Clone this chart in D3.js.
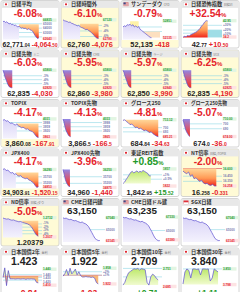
<!DOCTYPE html>
<html><head><meta charset="utf-8">
<script src="https://cdn.jsdelivr.net/npm/d3@7"></script>
<style>
body{margin:0;background:#fff}
svg{display:block}
.t{font-family:"Noto Sans CJK JP","Noto Sans",sans-serif}
.n{font-family:"Liberation Sans",Arial,sans-serif;font-weight:bold}
</style>
</head><body>
<svg id="c" width="240" height="292"></svg>
<script>
// ---------- DATA ----------
const titles = ["日経平均","日経時間外","サンデーダウ","日経恐怖指数",
  "日経先物","日経先物","日経先物","日経先物",
  "TOPIX","TOPIX先物","グロース250","グロース250先物",
  "JPX400","JPX400先物","東証REIT指数","NT倍率",
  "ND倍率","CME日経円建","CME日経ドル建","SGX日経",
  "日本国債2年","日本国債5年","日本国債10年","日本国債30年"];
const tags = ["","","CFD","日経VI","ミニ","CME","ラージ","SGX","","","","","","","","日経/TOPIX","日経/ダウ","","","","金利","金利","金利","金利"];
const flags = ["jp","jp","us","jp","jp","jp","jp","jp","jp","jp","jp","jp","jp","jp","jp","jp","jp","us","us","sg","jp","jp","jp","jp"];
const headMain = ["-6.08","-6.10","-0.79","+32.54","-6.03","-5.95","-5.97","-6.25","-4.17","-4.13","-4.81","-5.07","-4.17","-3.96","+0.85","-2.00","-5.05","63,150","63,235","63,150","1.423","1.922","2.709","3.840"];
const headTone = ["r","r","r","r","r","r","r","r","r","r","r","r","r","r","g","r","r","k","k","k","k","k","k","k"];
const priceMain = ["62,771","62,760","52,135","42","62,835","62,860","62,850","62,835","3,860","3,866","684","674","34,903","34,960","1,842","16","1.20379","","","","","","",""];
const priceDec = [".04","","",".77","","","","",".08",".5",".84",".0",".91","",".95",".258","","","","","","","",""];
const changeMain = ["-4,064","-4,076","-418","+10","-4,030","-3,980","-3,990","-4,190","-167","-166","-34","-36","-1,520","-1,440","+15","-0","","","","","-0.84%","-1.03%","+0.71%","+1.11%"];
const changeDec = [".50","","",".50","","","","",".91",".5",".63",".0",".15","",".52",".331","","","","","","","",""];
const changeTone = ["r","r","r","r","r","r","r","r","r","r","r","r","r","r","g","r","r","r","r","r","r","r","g","g"];

const sNikkei = [66500,66600,66300,66450,66200,66000,66100,65800,65900,65600,65700,65500,65300,65400,65200,65000,65100,64900,65000,64800,64700,64900,64600,64500,64300,63800,63300,62900,62643,62771];
const sNikkeiPTS = [67100,66900,66800,66700,66500,66600,66300,66200,66000,65900,65700,65800,65500,65300,65200,65000,64800,64900,64600,64400,64100,63800,63400,63000,62780,62760];
const sDow = [52600,52650,52620,52700,52680,52720,52650,52700,52600,52650,52580,52620,52500,52450,52400,52350,52300,52250,52200,52150,52135];
const sVI = [32.5,33,32.8,33.5,33.2,34,34.5,35,35.5,36,37,38,39.5,40.5,42,42.95,42.77];
const sFutMini = [65800,65300,64600,64200,63700,63300,63000,62900,62820,62835];
const sFutA = [65800,65200,64700,64100,63600,63200,63000,62880,62860];
const sFutB = [65800,65400,64800,64300,63800,63300,63000,62880,62850];
const sFutC = [65800,65100,64500,64000,63500,63100,62900,62825,62835];
const sTopix = [4020,4025,4010,4015,4000,3990,3995,3980,3975,3985,3965,3960,3950,3955,3945,3935,3940,3925,3920,3915,3900,3880,3863,3860];
const sTopixF = [4030,4000,3950,3920,3900,3880,3870,3866.5];
const sGrowth = [712,713,710,708,705,706,703,700,701,698,699,697,695,696,694,692,693,690,688,686,684.84];
const sGrowthF = [708,700,690,684,680,676,674];
const sJpx = [36300,36350,36200,36250,36100,36000,36050,35900,35950,35800,35750,35800,35650,35600,35550,35600,35450,35400,35300,35200,35000,34850,34903];
const sJpxF = [36250,35900,35500,35250,35100,34980,34960];
const sReit = [1827,1830,1835,1840,1845,1850,1852,1849,1851,1853,1850,1852,1851,1854,1852,1850,1848,1843,1842.95];
const sNT = [16.55,16.52,16.50,16.53,16.45,16.48,16.40,16.42,16.38,16.35,16.37,16.32,16.30,16.31,16.28,16.27,16.29,16.26,16.258];
const sND = [1.272,1.270,1.268,1.269,1.266,1.264,1.265,1.262,1.260,1.258,1.259,1.256,1.254,1.252,1.250,1.246,1.240,1.230,1.218,1.208,1.2038];
const sCme = [67000,66900,66950,66800,66700,66750,66600,66500,66550,66400,66300,66200,66300,66100,66000,65800,65500,65000,64500,64000,63500,63300,63150,63150];
const sCmeD = [67300,67200,67250,67100,67000,67050,66900,66800,66850,66700,66600,66500,66600,66400,66300,66100,65800,65300,64800,64200,63700,63400,63235,63235];
const sSgx = [67000,66900,66950,66800,66700,66750,66600,66500,66550,66400,66300,66200,66300,66100,66000,65800,65500,65000,64500,64000,63500,63300,63150,63150];
const sJgb2 = [1.430,1.465,1.400,1.455,1.425,1.425,1.425,1.424,1.425,1.425,1.424,1.425,1.425,1.423,1.425,1.424,1.425,1.424,1.424,1.412,1.410];
const sJgb5 = [1.940,1.945,1.955,1.942,1.958,1.945,1.950,1.956,1.943,1.950,1.941,1.938,1.938,1.939,1.938,1.938,1.937,1.938,1.935,1.925,1.922];
const sJgb10 = [2.690,2.700,2.720,2.735,2.740,2.745,2.750,2.748,2.751,2.745,2.750,2.748,2.746,2.700,2.690,2.720,2.730,2.725,2.715,2.709];
const sJgb30 = [3.800,3.840,3.850,3.845,3.820,3.850,3.850,3.848,3.850,3.830,3.850,3.850,3.849,3.850,3.810,3.820,3.850,3.845,3.840];
const seriesList = [sNikkei,sNikkeiPTS,sDow,sVI,sFutMini,sFutA,sFutB,sFutC,sTopix,sTopixF,sGrowth,sGrowthF,sJpx,sJpxF,sReit,sNT,sND,sCme,sCmeD,sSgx,sJgb2,sJgb5,sJgb10,sJgb30];
const xSlots = [30,26,26,24,36,36,36,36,24,34,21,32,23,32,24,20,21,25,25,25,21,21,20,19];
const domains = [[62400,67100],[62500,67300],[52050,52950],[31,44],[62600,66100],[62600,66100],[62600,66100],[62600,66100],[3850,4040],[3850,4040],[682,716],[670,712],[34800,36450],[34850,36400],[1818,1860],[16.22,16.62],[1.199,1.276],[62900,67400],[63000,67600],[62900,67400],[1.395,1.47],[1.915,1.962],[2.683,2.758],[3.790,3.858]];
const baseVals = [65900,66200,52600,32.3,65800,65800,65800,65800,3990,4030,713,710,36050,36250,1827.4,16.60,1.262,62900,63000,62900,1.435,1.942,2.690,3.798];
const topLabel = ["66835","67120","52851","42.95","65800","65800","65800","65800","4031","4033","713.12","710.00","36290","36250","1857","16.600","1.2732","67040","67330","67040","1.440","1.958","2.751","3.850"];
const topVal = [66835,67120,52851,42.95,65800,65800,65800,65800,4031,4033,713.12,710,36290,36250,1857,16.6,1.2732,67040,67330,67040,1.460,1.958,2.751,3.850];
const botLabel = ["62643","62780","52135","34.2","62820","62820","62840","62825","3863","3865","685.21","674.00","34853","34875","1822","16.258","1.2037","63145","63380","63145","1.410","1.922","2.685","3.798"];
const botVal = [62643,62780,52135,33.2,62820,62820,62840,62825,3863,3865,685.21,674,34853,34875,1822,16.258,1.2037,63145,63380,63145,1.410,1.922,2.685,3.798];
const gridVals = [[66000,65000,64000,63000],[65800,64500,63200],[52600,52400],[40,37,35],[64860,64190,63520],[64860,64190,63520],[64860,64190,63520],[64860,64190,63520],[3998,3959,3920],[3998,3959,3920],[700,693],[700,690],[35700,35200],[35700,35200],[1845,1836],[16.45,16.35],[1.250,1.238,1.225,1.213],[65000],[65000],[65000],[1.440,1.430,1.420],[1.950,1.942],[2.751,2.720],[3.850]];
const gridText = [["65000","64000","63000",""],["-2%","-4%","-6%"],["",""],["+30%","+20%","+10%"],["-3%","-4%","-5%"],["-3%","-4%","-5%"],["-3%","-4%","-5%"],["-3%","-4%","-5%"],["3998","3959","3920"],["3998","3959","3920"],["700","693"],["700","690"],["35700","35200"],["35700","35200"],["+1%","+0.5%"],["16.450","16.350"],["-1%","-2%","-3%","-4%"],["65000"],["65000"],["65000"],["1.440","1.430","1.420"],["+2%","+1%"],["",""],[""]];

// ---------- STYLE ----------
const style = [
 {bg:"w",fill:"split",split:13,grad:"gO"},{bg:"y",fill:"split",split:12,grad:"gO"},{bg:"f",fill:"lav",band:true},{bg:"w",fill:"up",grad:"gO"},
 {bg:"w",fill:"all",grad:"gP"},{bg:"y",fill:"all",grad:"gP"},{bg:"y",fill:"all",grad:"gP"},{bg:"y",fill:"all",grad:"gP"},
 {bg:"f",fill:"split",split:9,grad:"gO"},{bg:"w",fill:"all",grad:"gP"},{bg:"w",fill:"split",split:0,grad:"gO"},{bg:"w",fill:"all",grad:"gP"},
 {bg:"f",fill:"split",split:8,grad:"gO"},{bg:"w",fill:"all",grad:"gP"},{bg:"w",fill:"up",grad:"gG"},{bg:"y",fill:"split",split:0,grad:"gO"},
 {bg:"y",fill:"split",split:11,grad:"gO"},{bg:"w",fill:"lav"},{bg:"w",fill:"lav"},{bg:"w",fill:"lav"},
 {bg:"w",fill:"both"},{bg:"w",fill:"both"},{bg:"w",fill:"up",grad:"gG"},{bg:"w",fill:"up",grad:"gG"}
];
const RED="#e5232b", GREEN="#1f9a2a", YEL="#fffbd6";

const svg = d3.select("#c");
const defs = svg.append("defs");
function grad(id, stops){
  const g = defs.append("linearGradient").attr("id",id).attr("x1",0).attr("y1",0).attr("x2",0).attr("y2",1);
  stops.forEach(s=>g.append("stop").attr("offset",s[0]).attr("stop-color",s[1]));
}
grad("gO",[[0,"#ffd79a"],[0.55,"#ff9a55"],[1,"#f0261c"]]);
grad("gP",[[0,"#8f86e6"],[0.5,"#d35a7a"],[1,"#f5301c"]]);
grad("gG",[[0,"#bde86a"],[1,"#f1fbd0"]]);
grad("gL",[[0,"#d9d3f7"],[1,"#f4f2fd"]]);

function fit(sel, maxW){
  const w = sel.node().getComputedTextLength();
  if(w > maxW) sel.attr("textLength", maxW).attr("lengthAdjust","spacingAndGlyphs");
}
// shrink every tspan's font size so the whole text fits
function fitSize(sel, maxW){
  const w = sel.node().getComputedTextLength();
  if(w > maxW){
    const k = maxW / w;
    sel.selectAll("tspan").each(function(){
      const s = d3.select(this); s.attr("font-size", (+s.attr("font-size")*k).toFixed(2));
    });
  }
}

const TW=58, TH=47.5, LH=3.5;
titles.forEach((title,i)=>{
  const col=i%4, row=Math.floor(i/4);
  const g = svg.append("g").attr("transform",`translate(${1+col*60},${row*49.5+0.5})`);
  const st = style[i];
  const type = i>=20 ? "C" : (i>=17 && i<=19 ? "B" : "A");
  g.append("rect").attr("x",0).attr("y",0).attr("width",TW).attr("height",TH).attr("rx",2)
    .attr("fill", st.bg==="y"?YEL:"#fff").attr("stroke","#c9c9c9").attr("stroke-width",0.8);
  if(st.bg==="f") g.append("rect").attr("x",0.5).attr("y",39.5).attr("width",TW-1).attr("height",7.5).attr("fill",YEL);
  g.append("rect").attr("x",0.4).attr("y",0.4).attr("width",TW-0.8).attr("height",7).attr("fill","#e8e8e8");
  if(flags[i]==="jp"){
    g.append("rect").attr("x",2.5).attr("y",2).attr("width",5).attr("height",3.6).attr("fill","#fff").attr("stroke","#ccc").attr("stroke-width",0.3);
    g.append("circle").attr("cx",5).attr("cy",3.8).attr("r",1.1).attr("fill","#e0202a");
  } else {
    g.append("rect").attr("x",2.5).attr("y",2).attr("width",5).attr("height",3.6).attr("fill",flags[i]==="sg"?"#e0303a":"#c8464e");
    if(flags[i]==="us"){
      [2.8,3.9,5.0].forEach(y=>g.append("rect").attr("x",2.5).attr("y",y).attr("width",5).attr("height",0.5).attr("fill","#fff"));
      g.append("rect").attr("x",2.5).attr("y",2).attr("width",2.2).attr("height",1.8).attr("fill","#3a4a8a");
    } else g.append("rect").attr("x",2.5).attr("y",3.8).attr("width",5).attr("height",1.8).attr("fill","#fff");
  }
  const ht = g.append("text").attr("class","t").attr("x",10).attr("y",5.9).attr("font-size",5.2).attr("font-weight","bold").attr("fill","#333").text(title);
  fit(ht, 36);
  const tw = Math.min(36, ht.node().getComputedTextLength());
  if(tags[i]){
    const tg = g.append("text").attr("class","t").attr("x",10+tw+1.5).attr("y",5.7).attr("font-size",3.1).attr("fill","#777").text(tags[i]);
    fit(tg, Math.max(4, 56-(10+tw+1.5)));
  }

  const toneCol = t=> t==="r"?RED:(t==="g"?GREEN:"#222");
  if(type==="A"){
    const t = g.append("text").attr("class","n").attr("x",27).attr("y",16.4).attr("text-anchor","middle").attr("fill",toneCol(headTone[i]));
    t.append("tspan").attr("font-size",10.2).text(headMain[i]);
    t.append("tspan").attr("font-size",6).text("%");
  } else if(type==="B"){
    g.append("text").attr("class","n").attr("x",6).attr("y",15.2).attr("font-size",9.8).attr("fill","#222").text(headMain[i]);
  } else {
    g.append("text").attr("class","n").attr("x",10).attr("y",16.8).attr("font-size",10.5).attr("fill","#222").text(headMain[i]);
  }

  const py0 = type==="B"?17:18.5, py1 = type==="B"?43.5:39;
  const px0 = 2, px1 = type==="B"?42:39;
  const data = seriesList[i];
  const x = d3.scaleLinear().domain([0,xSlots[i]]).range([px0,px1]);
  const y = d3.scaleLinear().domain(domains[i]).range([py1,py0]);

  const clampY = v => Math.max(py0, Math.min(py1-0.5, y(v)));
  const labs = [{y:clampY(topVal[i]), txt:topLabel[i], kind:"top"}];
  gridVals[i].forEach((v,k)=>{ if(gridText[i][k]) labs.push({y:y(v), txt:gridText[i][k], kind:"mid"}); });
  labs.push({y:clampY(botVal[i]), txt:botLabel[i], kind:"bot"});
  labs.sort((a,b)=>a.y-b.y);
  for(let k=1;k<labs.length;k++) if(labs[k].y-labs[k-1].y<LH) labs[k].y=labs[k-1].y+LH;
  const over = labs[labs.length-1].y - (py1-0.5);
  if(over>0){ labs[labs.length-1].y -= over; for(let k=labs.length-2;k>=0;k--) if(labs[k+1].y-labs[k].y<LH) labs[k].y=labs[k+1].y-LH; }

  gridVals[i].forEach(v=>{
    g.append("line").attr("x1",px0).attr("x2",px1+2).attr("y1",y(v)).attr("y2",y(v)).attr("stroke","#8fd6e6").attr("stroke-width",0.6);
  });

  if(st.band){
    g.append("rect").attr("x",x(5)).attr("y",y(52851)).attr("width",x(11)-x(5)).attr("height",y(52600)-y(52851)).attr("fill","#fff2a8");
    g.append("rect").attr("x",x(11)).attr("y",y(52400)).attr("width",x(26)-x(11)).attr("height",y(52135)-y(52400)).attr("fill","#fde0c0");
  }
  if(i===3){
    g.append("rect").attr("x",x(16)).attr("y",y(37)).attr("width",x(24)-x(16)+2).attr("height",y(32.3)-y(37)).attr("fill","#9fdde6");
  }
  if(i===15){
    g.append("line").attr("x1",px0).attr("x2",px1+2).attr("y1",y(16.6)).attr("y2",y(16.6)).attr("stroke","#e06070").attr("stroke-width",0.8);
  }

  const pts = data.map((v,k)=>[k,v]);
  const areaDown = d3.area().x(d=>x(d[0])).y0(y(baseVals[i])).y1(d=>y(d[1]));
  const areaBottom = d3.area().x(d=>x(d[0])).y0(py1).y1(d=>y(d[1]));
  if(st.fill==="split"){
    const a = pts.slice(0, st.split+1);
    if(a.length>1) g.append("path").attr("d",areaBottom(a)).attr("fill","url(#gL)");
    g.append("path").attr("d",areaDown(pts.slice(st.split))).attr("fill","url(#"+st.grad+")");
  } else if(st.fill==="all" || st.fill==="up"){
    g.append("path").attr("d",areaDown(pts)).attr("fill","url(#"+st.grad+")");
  } else if(st.fill==="lav"){
    g.append("path").attr("d",areaBottom(pts)).attr("fill","url(#gL)");
  } else if(st.fill==="both"){
    const b = baseVals[i];
    const up = d3.area().x(d=>x(d[0])).y0(y(b)).y1(d=>y(Math.max(d[1],b)));
    const dn = d3.area().x(d=>x(d[0])).y0(y(b)).y1(d=>y(Math.min(d[1],b)));
    g.append("path").attr("d",up(pts)).attr("fill","url(#gG)");
    g.append("path").attr("d",dn(pts)).attr("fill","#f7b878");
    g.append("line").attr("x1",px0).attr("x2",px1+2).attr("y1",y(b)).attr("y2",y(b)).attr("stroke","#e06070").attr("stroke-width",0.5);
  }
  const line = d3.line().x(d=>x(d[0])).y(d=>y(d[1]));
  g.append("path").attr("d",line(pts)).attr("fill","none").attr("stroke","#5b4fd0").attr("stroke-width",0.7);

  labs.forEach(l=>{
    const col = l.kind==="top"?GREEN:(l.kind==="bot"?RED:"#7a7ab0");
    if(l.kind!=="mid") g.append("rect").attr("x",px1+2.5).attr("y",l.y-1.7).attr("width",14).attr("height",3.4)
      .attr("fill", l.kind==="top"?"#e2f5e2":"#fde3e3");
    g.append("text").attr("class","n").attr("x",px1+3).attr("y",l.y+1.1).attr("font-size",3.1).attr("font-weight","normal").attr("fill",col).text(l.txt);
  });

  if(type==="A"){
    const t = g.append("text").attr("class","n").attr("x",29).attr("y",46.2).attr("text-anchor","middle");
    t.append("tspan").attr("font-size",7.4).attr("fill","#222").text(priceMain[i]);
    if(priceDec[i]) t.append("tspan").attr("font-size",5).attr("fill","#222").text(priceDec[i]);
    if(changeMain[i]){
      t.append("tspan").attr("font-size",7.4).attr("fill",toneCol(changeTone[i])).text(" "+changeMain[i]);
      if(changeDec[i]) t.append("tspan").attr("font-size",5).attr("fill",toneCol(changeTone[i])).text(changeDec[i]);
    }
    fitSize(t, 55);
  } else if(type==="C"){
    const t = g.append("text").attr("class","n").attr("x",29).attr("y",47.5).attr("text-anchor","middle").attr("fill",toneCol(changeTone[i]));
    t.append("tspan").attr("font-size",8.5).text(changeMain[i].replace("%",""));
    t.append("tspan").attr("font-size",5.5).text("%");
  }
});
</script>
</body></html>
